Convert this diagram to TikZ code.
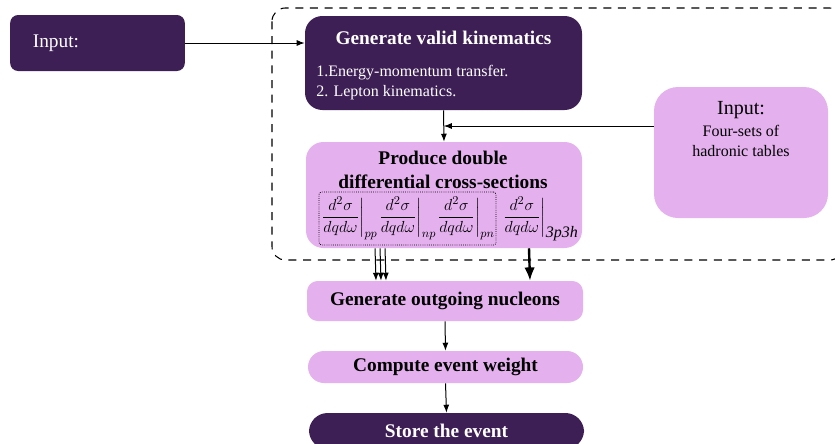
\documentclass[tikz,border=0pt]{standalone}
\usepackage{fontspec}
\setmainfont{Liberation Serif}
\usepackage{amsmath}
\usepackage{tikz}
\usetikzlibrary{arrows,arrows.meta,calc}

\definecolor{darkpurple}{RGB}{61,31,85}
\definecolor{lightpurple}{RGB}{228,176,238}

\tikzset{
  darkbox/.style={rectangle, rounded corners=13pt, fill=darkpurple, text=white, inner sep=0pt},
  lightbox/.style={rectangle, rounded corners=13pt, fill=lightpurple, text=black, inner sep=0pt},
  arr/.style={-{Latex[length=6pt,width=4.5pt]}, line width=0.75pt},
  bigarr/.style={-{Latex[length=10pt,width=8pt]}, line width=1.8pt},
  titlefont/.style={font=\fontsize{14.5}{18}\selectfont\bfseries},
  plainfont/.style={font=\fontsize{12}{15}\selectfont}
}

\begin{document}
\begin{tikzpicture}[x=0.75pt,y=-0.75pt]
\useasboundingbox (0,0) rectangle (835,443);

% outer dashed frame
\draw[dash pattern=on 6pt off 5pt, line width=0.8pt, rounded corners=10pt] (272,8) rectangle (843,260);

% boxes
\node[darkbox, rounded corners=6pt, minimum height=42pt, text width=97pt, inner xsep=17pt, align=left,
  font=\fontsize{14.5}{17}\selectfont] (inA) at (97.5,43) {Input:};
\node[darkbox, minimum width=207.75pt, minimum height=70.5pt] (kin) at (443.5,63) {};
\node[titlefont, text=white] (kintitle) at (443.5,38) {Generate valid kinematics};
\node[plainfont, text=white, anchor=west, align=left, inner sep=0pt] (kinlist) at (316,83)
  {1.Energy-momentum transfer.\\2. Lepton kinematics.};

\node[lightbox, minimum width=207pt, minimum height=79.5pt] (prod) at (444,195) {};
\node[titlefont, align=center, inner sep=0pt] (prodtitle) at (443,170) {Produce double\\differential cross-sections};
\node[draw, densely dotted, line width=0.6pt, rounded corners=2pt, minimum width=116pt, minimum height=39.75pt,
  inner xsep=1pt, inner ysep=0pt, font=\fontsize{12.5}{15}\selectfont] (xsec) at (407.5,218.5)
  {$\displaystyle \left.\frac{d^2\sigma}{dqd\omega}\right|_{pp}\!
   \left.\frac{d^2\sigma}{dqd\omega}\right|_{np}\!
   \left.\frac{d^2\sigma}{dqd\omega}\right|_{pn}$};
\node[inner sep=0pt, font=\fontsize{12.5}{15}\selectfont] (xsecmec) at (540,219)
  {$\displaystyle \left.\frac{d^2\sigma}{dqd\omega}\right|_{\mbox{\fontsize{12}{12}\selectfont\itshape 3p3h}}$};

\node[lightbox, rounded corners=18pt, minimum width=130.5pt, minimum height=98.25pt] (inB) at (741,152.5) {};
\node[plainfont, align=center, inner sep=0pt] (inBtext) at (741,129)
  {{\fontsize{15}{18}\selectfont Input:}\\[1pt]Four-sets of\\hadronic tables};

\node[lightbox, rounded corners=8pt, minimum width=207pt, minimum height=30pt, titlefont] (gon) at (445,301) {Generate outgoing nucleons};
\node[lightbox, rounded corners=12pt, minimum width=206.25pt, minimum height=24pt, titlefont] (cew) at (445.5,367) {Compute event weight};
\node[darkbox, rounded corners=14pt, minimum width=206.25pt, minimum height=27pt, titlefont, text=white] (store) at (446.5,431) {Store the event};

% connectors
\coordinate (join) at ($(kin.south)!0.5!(prod.north)$);
\draw[arr] (inA.east) -- (inA.east -| kin.west);
\draw[arr] (kin.south) -- (prod.north);
\draw[arr] (inB.west |- join) -- (join);
\foreach \dx in {-51.75,-48,-44.25}
  \draw[arr] ([xshift=\dx pt]prod.south) -- ([xshift=\dx pt]gon.north);
\draw[bigarr] ([xshift=63.75pt]prod.south) -- ([xshift=63.75pt]gon.north);
\draw[arr] (gon.south) -- (cew.north);
\draw[arr] (cew.south) -- (store.north);
\end{tikzpicture}
\end{document}
